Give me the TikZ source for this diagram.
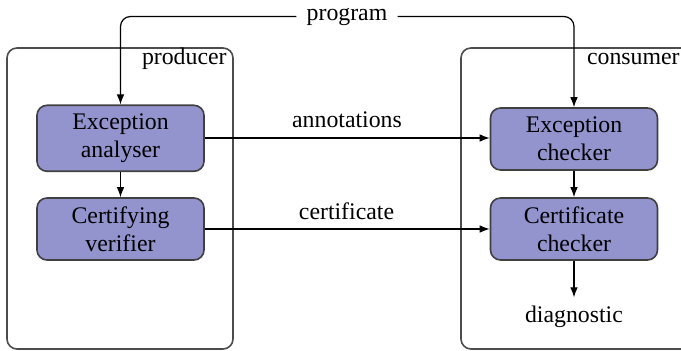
\documentclass[tikz,border=0pt]{standalone}
\usepackage{fontspec}
\setmainfont{Liberation Serif}
\newfontfamily\diagfont{Liberation Serif}
\usetikzlibrary{arrows.meta}
\definecolor{boxfill}{RGB}{147,147,205}
\tikzset{
  stage/.style={draw=black!75, line width=0.8pt, fill=boxfill, rounded corners=5pt,
    minimum width=83.5pt, align=center, inner sep=2pt},
  party/.style={draw=black!70, line width=0.8pt, rounded corners=5pt},
  flow/.style={line width=0.6pt, -{Latex[length=5pt,width=3.8pt]}},
  lbl/.style={inner sep=0pt, anchor=base}
}
\begin{document}
\begin{tikzpicture}[x=0.5pt, y=-0.5pt, font=\diagfont\fontsize{11.9}{14}\selectfont]
\useasboundingbox (0,0) rectangle (681,351);

% producer and consumer enclosures
\begin{scope}
\clip (0,0) rectangle (681,351);
\draw[party] (7,48) rectangle (233,349);
\draw[party] (461,48) rectangle (710,349);
\end{scope}
\node[lbl, anchor=base east] (prodlbl) at (227,65) {producer};
\node[lbl, anchor=base east] (conslbl) at (680,65) {consumer};

% processing stages
\node[stage, minimum height=33pt] (ea) at (120.5,138.3) {Exception\\analyser};
\node[stage, minimum height=31pt] (cv) at (120.5,229) {Certifying\\verifier};
\node[stage, minimum height=31pt] (ec) at (574,139) {Exception\\checker};
\node[stage, minimum height=31pt] (cc) at (574,229) {Certificate\\checker};
\node[anchor=base, inner sep=4.35pt] (diag) at (574,323) {diagnostic};

% program fed to both sides
\node[anchor=base, inner sep=5pt] (prog) at (347,21) {program};
\draw[flow, rounded corners=5pt] (prog.west |- 0,16.5) -| (ea.north);
\draw[flow, rounded corners=5pt] (prog.east |- 0,16.5) -| (ec.north);

% vertical flows
\draw[flow] (ea.south) -- (cv.north);
\draw[flow] (ec.south) -- (cc.north);
\draw[flow] (cc.south) -- (diag.north);

% transfers from producer to consumer
\draw[flow] (ea.east |- 0,138) -- (ec.west |- 0,138);
\draw[flow] (cv.east) -- (cv.east -| cc.west);
\node[lbl] (annot) at (347,128) {annotations};
\node[lbl] (cert) at (346.5,220) {certificate};
\end{tikzpicture}
\end{document}
